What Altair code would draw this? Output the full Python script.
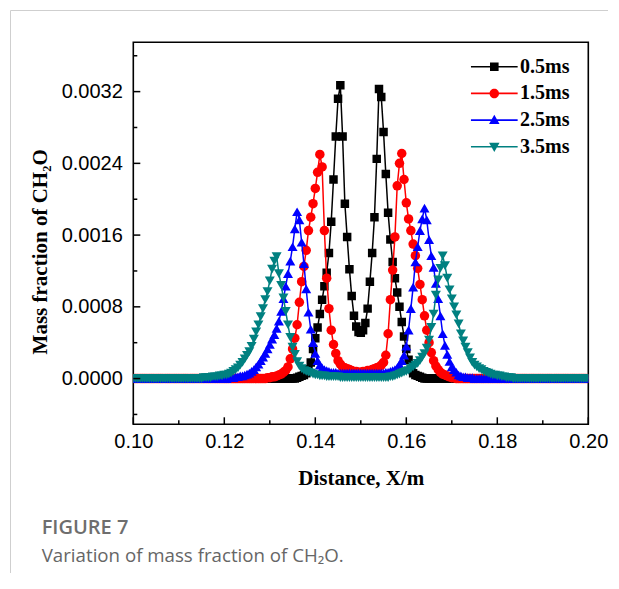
import altair as alt
import numpy as np
import pandas as pd

# ---------------- data ----------------
X_START = 0.10      # m, first grid node
X_STEP = 0.0005     # m, grid spacing
N_POINTS = 201

SERIES = ["0.5ms", "1.5ms", "2.5ms", "3.5ms"]
COLORS = ["#000000", "#ff0000", "#0000ff", "#008080"]
SHAPES = ["square", "circle", "triangle-up", "triangle-down"]
SIZES = [72, 90, 100, 100]

# 0.5 ms : nodes 70..130 (outside: 0)
ms05_span = [
    0.0, 0.0, 0.00001, 0.00002, 0.00003, 0.00004, 0.00006, 0.00010, 0.00018, 0.00033,
    0.00045, 0.00057, 0.00072, 0.00088, 0.00103, 0.00118, 0.00140, 0.00175, 0.00222, 0.00270,
    0.00312, 0.00327, 0.00270, 0.00195, 0.00158, 0.00122, 0.00092, 0.00070, 0.00058, 0.00052,
    0.00051, 0.00054, 0.00062, 0.00078, 0.00108, 0.00140, 0.00180, 0.00245, 0.00323, 0.00314,
    0.00275, 0.00228, 0.00185, 0.00155, 0.00130, 0.00112, 0.00096, 0.00080, 0.00063, 0.00047,
    0.00033, 0.00021, 0.00011, 0.00006, 0.00004, 0.00003, 0.00002, 0.00001, 0.0, 0.0,
    0.0,
]
# 1.5 ms : nodes 55..145
ms15_span = [
    0.0, 0.0, 0.0, 0.0, 0.00001,
    0.00001, 0.00002, 0.00002, 0.00003, 0.00004, 0.00005, 0.00007, 0.00009, 0.00013, 0.00022,
    0.00033, 0.00045, 0.00060, 0.00085, 0.00108, 0.00125, 0.00143, 0.00165, 0.00180, 0.00195,
    0.00212, 0.00230, 0.00250, 0.00236, 0.00165, 0.00112, 0.00078, 0.00054, 0.00038, 0.00028,
    0.00020, 0.00016, 0.00013, 0.00012, 0.00011, 0.00010, 0.00009, 0.00008, 0.00008, 0.00007,
    0.00007, 0.00008, 0.00008, 0.00009, 0.00009, 0.00010, 0.00011, 0.00012, 0.00013, 0.00015,
    0.00018, 0.00026, 0.00050, 0.00088, 0.00121, 0.00158, 0.00215, 0.00240, 0.00251, 0.00222,
    0.00196, 0.00178, 0.00165, 0.00150, 0.00137, 0.00123, 0.00105, 0.00088, 0.00070, 0.00054,
    0.00040, 0.00029, 0.00020, 0.00014, 0.00010, 0.00007, 0.00005, 0.00004, 0.00003, 0.00002,
    0.00001, 0.00001, 0.0, 0.0, 0.0, 0.0,
]
# 2.5 ms : nodes 40..155
ms25_span = [
    0.0, 0.0, 0.00001, 0.00001, 0.00001, 0.00002, 0.00002, 0.00003, 0.00003, 0.00004,
    0.00005, 0.00006, 0.00008, 0.00010, 0.00013, 0.00016, 0.00020, 0.00024, 0.00028, 0.00033,
    0.00038, 0.00044, 0.00049, 0.00056, 0.00064, 0.00075, 0.00089, 0.00103, 0.00117, 0.00131,
    0.00147, 0.00167, 0.00186, 0.00177, 0.00152, 0.00128, 0.00100, 0.00074, 0.00055, 0.00040,
    0.00028, 0.00020, 0.00015, 0.00012, 0.00010, 0.00009, 0.00008, 0.00007, 0.00007, 0.00007,
    0.00006, 0.00006, 0.00006, 0.00006, 0.00006, 0.00006, 0.00006, 0.00006, 0.00006, 0.00006,
    0.00006, 0.00006, 0.00006, 0.00006, 0.00006, 0.00006, 0.00006, 0.00006, 0.00006, 0.00006,
    0.00006, 0.00007, 0.00007, 0.00008, 0.00009, 0.00010, 0.00012, 0.00016, 0.00020, 0.00026,
    0.00036, 0.00054, 0.00078, 0.00102, 0.00130, 0.00147, 0.00165, 0.00178, 0.00190, 0.00177,
    0.00155, 0.00137, 0.00124, 0.00106, 0.00089, 0.00070, 0.00050, 0.00037, 0.00027, 0.00019,
    0.00013, 0.00010, 0.00007, 0.00004, 0.00003, 0.00002, 0.00002, 0.00001, 0.00001, 0.00001,
    0.0, 0.0, 0.0, 0.0, 0.0, 0.0,
]
# 3.5 ms : nodes 25..170
ms35_span = [
    0.0, 0.0, 0.0, 0.0, 0.0,
    0.0, 0.00001, 0.00001, 0.00001, 0.00001, 0.00002, 0.00002, 0.00002, 0.00003, 0.00003,
    0.00004, 0.00004, 0.00005, 0.00006, 0.00008, 0.00010, 0.00012, 0.00015, 0.00018, 0.00022,
    0.00026, 0.00030, 0.00036, 0.00044, 0.00052, 0.00060, 0.00069, 0.00078, 0.00088, 0.00097,
    0.00109, 0.00122, 0.00131, 0.00136, 0.00117, 0.00104, 0.00090, 0.00075, 0.00060, 0.00046,
    0.00035, 0.00027, 0.00019, 0.00014, 0.00011, 0.00009, 0.00008, 0.00007, 0.00006, 0.00005,
    0.00004, 0.00004, 0.00003, 0.00003, 0.00003, 0.00002, 0.00002, 0.00002, 0.00002, 0.00002,
    0.00002, 0.00001, 0.00001, 0.00001, 0.00001, 0.00001, 0.00001, 0.00001, 0.00001, 0.00001,
    0.00001, 0.00001, 0.00001, 0.00001, 0.00001, 0.00001, 0.00001, 0.00001, 0.00001, 0.00001,
    0.00001, 0.00001, 0.00001, 0.00002, 0.00002, 0.00003, 0.00004, 0.00005, 0.00006, 0.00007,
    0.00008, 0.00009, 0.00011, 0.00013, 0.00015, 0.00017, 0.00020, 0.00024, 0.00028, 0.00034,
    0.00043, 0.00057, 0.00072, 0.00093, 0.00110, 0.00123, 0.00137, 0.00126, 0.00112, 0.00099,
    0.00089, 0.00080, 0.00071, 0.00061, 0.00050, 0.00042, 0.00035, 0.00029, 0.00023, 0.00018,
    0.00015, 0.00013, 0.00011, 0.00010, 0.00008, 0.00007, 0.00006, 0.00005, 0.00004, 0.00004,
    0.00003, 0.00003, 0.00002, 0.00002, 0.00001, 0.00001, 0.00001, 0.0, 0.0, 0.0,
    0.0,
]

ms05 = [0.0] * 70 + ms05_span + [0.0] * 70
ms15 = [0.0] * 55 + ms15_span + [0.0] * 55
ms25 = [0.0] * 40 + ms25_span + [0.0] * 45
ms35 = [0.0] * 25 + ms35_span + [0.0] * 30

X_TICKS = [0.10, 0.12, 0.14, 0.16, 0.18, 0.20]
X_MINOR = [0.11, 0.13, 0.15, 0.17, 0.19]
Y_TICKS = [0.0, 0.0008, 0.0016, 0.0024, 0.0032]
Y_MINOR = [-0.0004, 0.0004, 0.0012, 0.0020, 0.0028, 0.0036]
X_DOMAIN = [0.10, 0.20]
Y_DOMAIN = [-0.00051, 0.00375]

# legend symbols: line with marker (unit box, scaled by sqrt(size)/2)
LEG_LINE = "M-4.67,-0.16H4.67V0.16H-4.67Z"
LEG_PATHS = [
    LEG_LINE + "M-0.86,-0.86H0.86V0.86H-0.86Z",
    LEG_LINE + "M-0.95,0A0.95,0.95 0 1,1 0.95,0A0.95,0.95 0 1,1 -0.95,0Z",
    LEG_LINE + "M0,-1.05L1.05,0.8L-1.05,0.8Z",
    LEG_LINE + "M0,1.05L-1.05,-0.8L1.05,-0.8Z",
]

# ---------------- table ----------------
x_grid = np.round(X_START + X_STEP * np.arange(N_POINTS), 4)
rows = []
for name, vals in zip(SERIES, [ms05, ms15, ms25, ms35]):
    assert len(vals) == N_POINTS, (name, len(vals))
    for xv, yv in zip(x_grid, vals):
        rows.append({"series": name, "x": float(xv), "y": yv})
df = pd.DataFrame(rows)

PW, PH = 455, 382
BORDER_BOTTOM = PH + 150

xs = alt.Scale(domain=X_DOMAIN, nice=False, zero=False)
ys = alt.Scale(domain=Y_DOMAIN, nice=False, zero=False)

xaxis = alt.Axis(
    values=X_TICKS, format=".2f", ticks=False, tickSize=0, domain=False, grid=False,
    labelFont="Liberation Sans", labelFontSize=20, labelColor="black", labelPadding=7,
    labelFlush=False, title="Distance, X/m", titleFont="Liberation Serif",
    titleFontWeight="bold", titleFontSize=21, titleColor="black",
    titleY=54, titleBaseline="middle",
)
yaxis = alt.Axis(
    values=Y_TICKS, format=".4f", ticks=False, tickSize=0, domain=False, grid=False,
    labelFont="Liberation Sans", labelFontSize=20, labelColor="black", labelPadding=11,
    labelFlush=False, title="Mass fraction of CH₂O", titleFont="Liberation Serif",
    titleFontWeight="bold", titleFontSize=21, titleColor="black",
    titleX=-93, titleY=PH / 2 + 18, titleBaseline="middle", titleAngle=270,
)

X = alt.X("x:Q", scale=xs, axis=xaxis)
Y = alt.Y("y:Q", scale=ys, axis=yaxis)

layers = []
for name, color, shape, size in zip(SERIES, COLORS, SHAPES, SIZES):
    sub = alt.Chart(df).transform_filter(alt.datum.series == name)
    layers.append(
        sub.mark_line(color=color, strokeWidth=1.5, clip=True).encode(x=X, y=Y, order="x:Q")
    )
    layers.append(
        sub.mark_point(shape=shape, filled=True, color=color, size=size, opacity=1,
                       strokeWidth=0, clip=True).encode(x=X, y=Y)
    )

# inward ticks
xt = alt.Chart(pd.DataFrame({"t": X_TICKS})).mark_rule(color="black", strokeWidth=1.5).encode(
    x=alt.X("t:Q", scale=xs, axis=xaxis), y=alt.value(PH), y2=alt.value(PH - 7))
xm = alt.Chart(pd.DataFrame({"t": X_MINOR})).mark_rule(color="black", strokeWidth=1.5).encode(
    x=alt.X("t:Q", scale=xs, axis=xaxis), y=alt.value(PH), y2=alt.value(PH - 4))
yt = alt.Chart(pd.DataFrame({"t": Y_TICKS})).mark_rule(color="black", strokeWidth=1.5).encode(
    y=alt.Y("t:Q", scale=ys, axis=yaxis), x=alt.value(0), x2=alt.value(7))
ym = alt.Chart(pd.DataFrame({"t": Y_MINOR})).mark_rule(color="black", strokeWidth=1.5).encode(
    y=alt.Y("t:Q", scale=ys, axis=yaxis), x=alt.value(0), x2=alt.value(4))

# legend (driven by explicit scale domains)
leg = alt.Legend(
    title=None, orient="none", legendX=351, legendY=14.4,
    labelFont="Liberation Serif", labelFontSize=20, labelFontWeight="bold", labelColor="black",
    symbolSize=100, symbolStrokeWidth=0, labelOffset=15.7, rowPadding=6.7, padding=0,
    symbolOpacity=1,
)
legend_layer = alt.Chart(df).transform_filter("false").mark_point(filled=True, opacity=1).encode(
    color=alt.Color("series:N", scale=alt.Scale(domain=SERIES, range=COLORS), legend=leg),
    shape=alt.Shape("series:N", scale=alt.Scale(domain=SERIES, range=LEG_PATHS), legend=leg),
)

# card border (decoration)
one = pd.DataFrame({"k": [0]})
border_top = alt.Chart(one).mark_rule(color="#cfcfcf", strokeWidth=1).encode(
    x=alt.value(-122.8), x2=alt.value(PW + 22), y=alt.value(-31.8))
border_left = alt.Chart(one).mark_rule(color="#cfcfcf", strokeWidth=1).encode(
    x=alt.value(-122.8), y=alt.value(-31.8), y2=alt.value(BORDER_BOTTOM))

chart = alt.layer(
    border_top, border_left, *layers, xt, xm, yt, ym, legend_layer
).properties(
    width=PW, height=PH,
    autosize=alt.AutoSizeParams(type="none"),
    padding={"left": 125.3, "top": 34.3, "right": 19.7, "bottom": 148.7},
    title=alt.TitleParams(
        text="FIGURE 7", subtitle="Variation of mass fraction of CH₂O.",
        orient="bottom", anchor="start", frame="group", dx=-91.6,
        offset=(475 - BORDER_BOTTOM),
        font="Open Sans", fontSize=20, fontWeight=600, color="#6e6e6e",
        subtitleFont="Open Sans", subtitleFontSize=18.7, subtitleColor="#666666",
        subtitlePadding=9,
    ),
).configure_view(stroke="black", strokeWidth=1.6)

chart.save("out.html", embed_options={"renderer": "svg", "actions": False})
